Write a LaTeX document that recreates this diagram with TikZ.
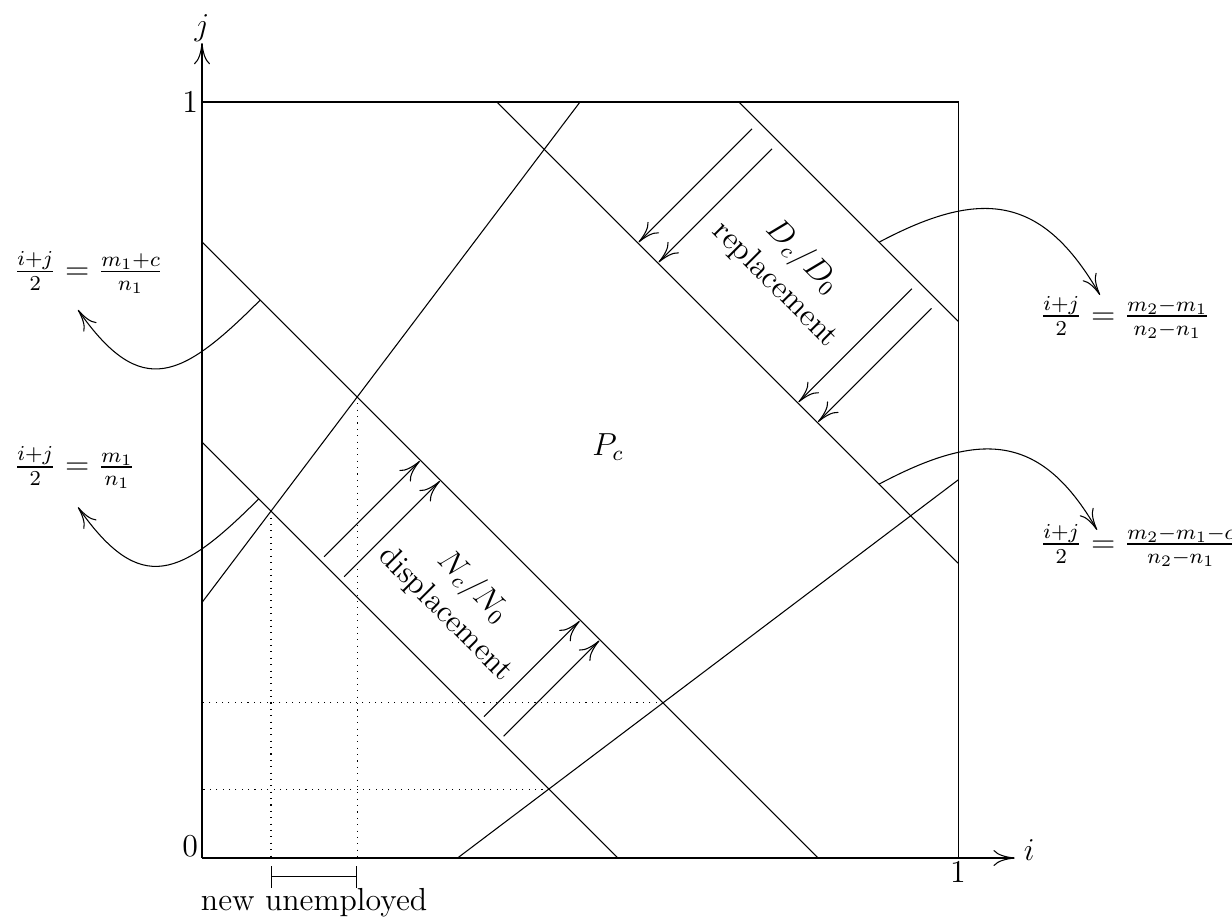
\documentclass[12pt,tikz,border=0pt]{standalone}
\usepackage{amsmath,amssymb}
\usepackage{tikz}
\usetikzlibrary{arrows.meta,calc}

\begin{document}
\begin{tikzpicture}[x=10cm,y=10cm,
  >={Computer Modern Rightarrow[length=8pt,width=6pt]},
  guide/.style={dotted},
  band/.style={rotate=-45,align=center,inner sep=1pt},
  eqn/.style={anchor=west},
  swingl/.style={->,looseness=1.55},
  swingr/.style={->,looseness=1.3}]
  \useasboundingbox (-0.2672,-0.0780) rectangle (1.3624,1.1349);
  % axes and unit square
  \coordinate (o) at (0,0);
  \draw[->] (o) -- (1.075,0) coordinate (xend);
  \draw[->] (o) -- (0,1.078) coordinate (yend);
  \draw (1,0) -- (1,1) -- (0,1);
  \node (xlab) at (1.094,0.011) {$i$};
  \node (ylab) at (0,1.098) {$j$};
  \node (zero) at (-0.0155,0.016) {$0$};
  \node (xone) at (1,-0.0185) {$1$};
  \node (yone) at (-0.0155,1) {$1$};
  % boundaries i+j = const
  \coordinate (a1) at (0,0.815);  \coordinate (a2) at (0.815,0);
  \coordinate (b1) at (0,0.55);   \coordinate (b2) at (0.55,0);
  \coordinate (c1) at (0.39,1);   \coordinate (c2) at (1,0.39);
  \coordinate (d1) at (0.71,1);   \coordinate (d2) at (1,0.71);
  \draw (a1) -- (a2); \draw (b1) -- (b2);
  \draw (c1) -- (c2); \draw (d1) -- (d2);
  % rising lines
  \coordinate (e1) at (0,0.338);  \coordinate (e2) at (0.5,1);
  \coordinate (f1) at (0.338,0);  \coordinate (f2) at (1,0.5);
  \draw (e1) -- (e2); \draw (f1) -- (f2);
  % crossings and guides
  \coordinate (p1) at (intersection of b1--b2 and e1--e2);
  \coordinate (p2) at (intersection of a1--a2 and e1--e2);
  \coordinate (q1) at (intersection of a1--a2 and f1--f2);
  \coordinate (q2) at (intersection of b1--b2 and f1--f2);
  \draw[guide] (p1) -- (p1 |- o); \draw[guide] (p2) -- (p2 |- o);
  \draw[guide] (q1) -- (q1 -| o); \draw[guide] (q2) -- (q2 -| o);
  \draw[{Bar[width=8pt]}-{Bar[width=8pt]}] ($(p1 |- o)+(0,-0.025)$) -- ($(p2 |- o)+(0,-0.025)$)
    node[midway,below] (nu) {new unemployed};
  % shifts
  \foreach \d in {-0.237,-0.184,0.186,0.238}{
    \draw[->] ({(0.56+\d)/2},{(0.56-\d)/2}) -- ({(0.813+\d)/2},{(0.813-\d)/2});
    \draw[->] ({(1.692+\d)/2},{(1.692-\d)/2}) -- ({(1.392+\d)/2},{(1.392-\d)/2});
  }
  \node[band] (disp) at (0.341,0.341) {$N_c/N_0$\\displacement};
  \node[band] (repl) at (0.777,0.777) {$D_c/D_0$\\replacement};
  \node (pc) at (0.537,0.544) {$P_c$};
  % equations
  \node[eqn] (eq1) at (-0.2631,0.775) {$\frac{i+j}{2} = \frac{m_1+c}{n_1}$};
  \node[eqn] (eq2) at (-0.2631,0.516) {$\frac{i+j}{2} = \frac{m_1}{n_1}$};
  \node[eqn] (eq3) at (1.094,0.7156) {$\frac{i+j}{2} = \frac{m_2-m_1}{n_2-n_1}$};
  \node[eqn] (eq4) at (1.094,0.414) {$\frac{i+j}{2} = \frac{m_2-m_1-c}{n_2-n_1}$};
  \coordinate (s1) at (0.077,0.738);   \coordinate (t1) at (-0.164,0.725);
  \coordinate (s2) at (0.075,0.475);   \coordinate (t2) at (-0.164,0.464);
  \coordinate (s3) at (0.8955,0.8145); \coordinate (t3) at (1.1878,0.7447);
  \coordinate (s4) at (0.8955,0.4945); \coordinate (t4) at (1.1839,0.4339);
  \draw[swingl] (s1) to[out=225,in=-55] (t1);
  \draw[swingl] (s2) to[out=225,in=-55] (t2);
  \draw[swingr] (s3) to[out=28,in=120] (t3);
  \draw[swingr] (s4) to[out=28,in=120] (t4);
\end{tikzpicture}
\end{document}
